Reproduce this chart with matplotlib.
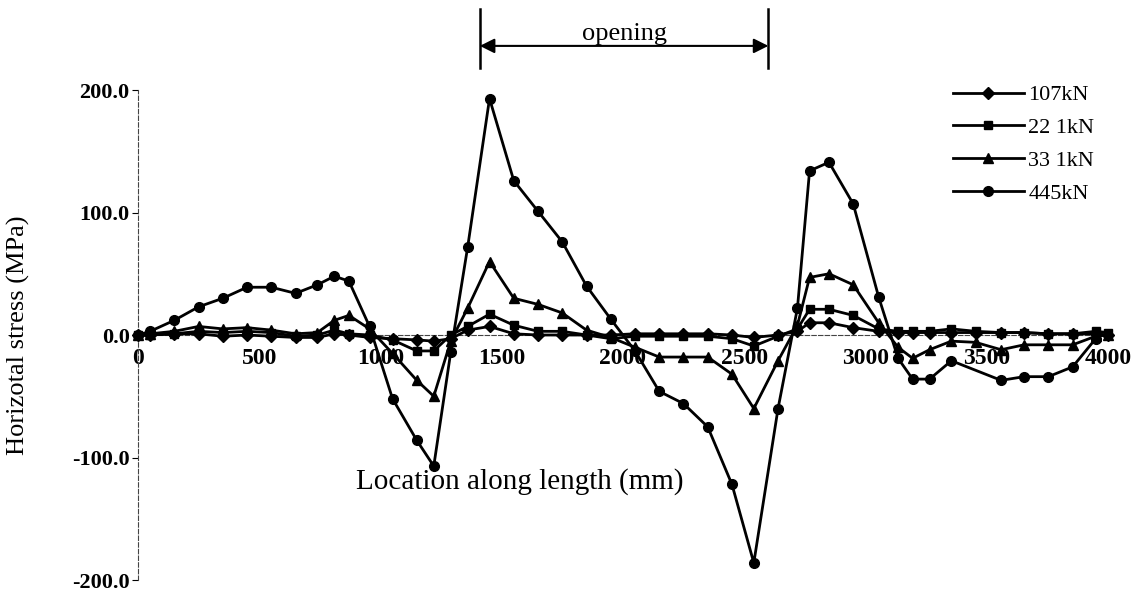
# -*- coding: utf-8 -*-
"""
Horizontal stress along the length of the beam for four load levels.
"""
import matplotlib
matplotlib.use("Agg")
import matplotlib.pyplot as plt

plt.rcParams["font.family"] = ["Liberation Serif", "DejaVu Serif"]

# gauge locations (mm)
X = [0, 50, 150, 250, 350, 450, 550, 650, 740, 810, 870, 955, 1050, 1150, 1220,
     1290, 1360, 1450, 1550, 1650, 1750, 1850, 1950, 2050, 2150, 2250, 2350,
     2450, 2540, 2640, 2720, 2770, 2850, 2950, 3055, 3135, 3195, 3265, 3355,
     3455, 3560, 3655, 3755, 3855, 3950, 4000]

S107 = [0, 0, 1, 1, -1, 0, -1, -2, -2, 1, 0, -2, -3, -4, -5,
        -3, 4, 7, 1, 0, 0, 0, 0, 1, 1, 1, 1,
        0, -2, 0, 3, 10, 10, 6, 3, 2, 2, 2, 2,
        2, 2, 2, 1, 1, 1, 0]

S221 = [0, 0, 1, 3, 2, 3, 2, -1, 0, 4, 1, 0, -4, -13, -13,
        0, 7, 17, 8, 3, 3, 0, -3, -1, -1, -1, -1,
        -3, -9, -1, 5, 21, 21, 16, 5, 3, 3, 3, 5,
        3, 2, 2, 1, 1, 3, 2]

S331 = [0, 1, 3, 7, 5, 6, 4, 1, 2, 12, 16, 5, -15, -37, -50,
        -5, 22, 60, 30, 25, 18, 4, -2, -10, -18, -18, -18,
        -32, -60, -21, 8, 47, 50, 41, 10, -10, -19, -12, -5,
        -6, -12, -8, -8, -8, -1, 0]

X445 = [0, 50, 150, 250, 350, 450, 550, 650, 740, 810, 870, 955, 1050, 1150, 1220,
        1290, 1360, 1450, 1550, 1650, 1750, 1850, 1950, 2050, 2150, 2250, 2350,
        2450, 2540, 2640, 2720, 2770, 2850, 2950, 3055, 3135, 3195, 3265, 3355,
        3560, 3655, 3755, 3855, 3950]
S445 = [0, 3, 12, 23, 30, 39, 39, 34, 41, 48, 44, 7, -52, -86, -107,
        -14, 72, 193, 126, 101, 76, 40, 13, -13, -46, -56, -75,
        -122, -186, -60, 22, 134, 141, 107, 31, -19, -36, -36, -21,
        -37, -34, -34, -26, -3]

SERIES = [
    (X, S107, "D", 6, "107kN"),
    (X, S221, "s", 6, "22 1kN"),
    (X, S331, "^", 7.5, "33 1kN"),
    (X445, S445, "o", 7, "445kN"),
]

fig = plt.figure(figsize=(11.45, 6.0), dpi=100)
ax = fig.add_axes([0.1205, 0.0333, 0.847, 0.8167])

for xs, ys, mk, ms, label in SERIES:
    ax.plot(xs, ys, color="black", lw=2.0, marker=mk, markersize=ms,
            label=label, clip_on=False, zorder=3)

ax.set_xlim(0, 4000)
ax.set_ylim(-200, 200)

# axes: dashed left spine, dashed zero line as x axis
for side in ["top", "right"]:
    ax.spines[side].set_visible(False)
ax.spines["left"].set_linestyle((0, (4, 2)))
ax.spines["left"].set_linewidth(0.8)
ax.spines["left"].set_color("#444444")
ax.spines["bottom"].set_position(("data", 0))
ax.spines["bottom"].set_linestyle((0, (4, 2)))
ax.spines["bottom"].set_linewidth(0.8)
ax.spines["bottom"].set_color("#444444")
ax.spines["bottom"].set_zorder(1)

ax.set_xticks(range(0, 4001, 500))
ax.set_yticks([-200, -100, 0, 100, 200])
ax.set_yticklabels(["-200.0", "-100.0", "0.0", "100.0", "200.0"])
ax.tick_params(axis="x", length=0, pad=9, labelsize=17)
ax.tick_params(axis="y", length=4, width=0.8, pad=2, labelsize=16)
for t in ax.get_yticklabels() + ax.get_xticklabels():
    t.set_fontweight("bold")

ax.set_xlabel("Location along length (mm)", fontsize=21)
ax.xaxis.label.set_va("center")
ax.xaxis.set_label_coords(0.394, 0.2)
ax.set_ylabel("Horizotal stress (MPa)", fontsize=19)
ax.yaxis.set_label_coords(-0.111, 0.5)

# opening annotation above the plot
for xv in (1410, 2600):
    ax.plot([xv, xv], [218, 266], color="black", lw=1.8, clip_on=False)
ax.annotate("", xy=(1410, 236), xytext=(2600, 236), annotation_clip=False,
            arrowprops=dict(arrowstyle="<|-|>", color="black", lw=1.5,
                            mutation_scale=22, shrinkA=0, shrinkB=0))
ax.text(2005, 246, "opening", ha="center", va="center", fontsize=19)

leg = ax.legend(loc="upper left", bbox_to_anchor=(944 / 1145, 1 - 76 / 600),
                bbox_transform=fig.transFigure, frameon=False, fontsize=16,
                handlelength=3.2, labelspacing=0.55, handletextpad=0.2,
                borderaxespad=0)

fig.savefig("out.png", dpi=100)
